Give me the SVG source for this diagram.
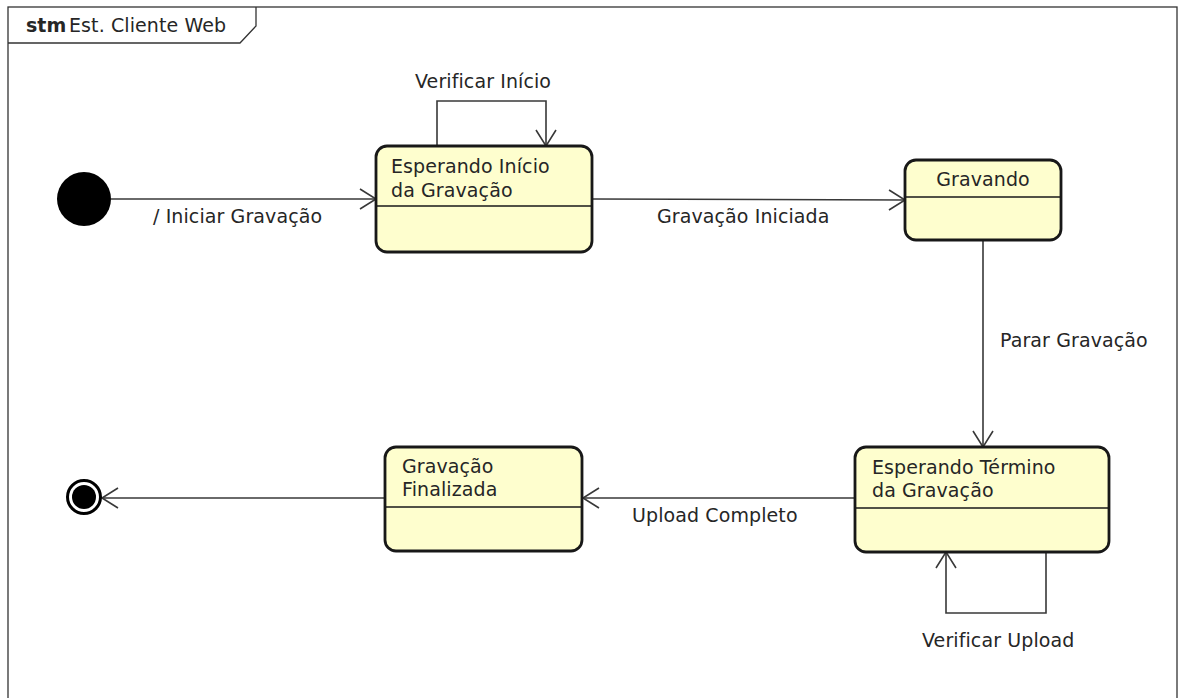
<svg xmlns="http://www.w3.org/2000/svg" width="1185" height="698" viewBox="0 0 1185 698">
<defs>
<style>
text{font-family:"DejaVu Sans",Verdana,sans-serif;font-size:19px;fill:#262626;letter-spacing:0.1px}
.st{fill:#FEFECE;stroke:#181818;stroke-width:2.8}
.dv{stroke:#181818;stroke-width:1.5;fill:none}
.cn{stroke:#383838;stroke-width:1.6;fill:none}
.fr{stroke:#333;stroke-width:1.3;fill:none}
</style>
<marker id="arr" markerUnits="userSpaceOnUse" markerWidth="22" markerHeight="24" refX="17" refY="11" orient="auto">
<path d="M1,1 L17,11 L1,21" fill="none" stroke="#383838" stroke-width="1.6"/>
</marker>
</defs>
<rect x="0" y="0" width="1185" height="698" fill="#fff"/>
<g id="frame">
<rect class="fr" x="8" y="7" width="1169" height="700"/>
<path class="fr" d="M8,43 L240,43 L256,26 L256,7"/>
<text x="26" y="32" style="font-weight:bold;letter-spacing:0">stm</text>
<text x="69" y="32">Est. Cliente Web</text>
</g>
<g id="connectors">
<line class="cn" x1="111" y1="199" x2="376" y2="199" marker-end="url(#arr)"/>
<text x="153" y="223">/ Iniciar Gravação</text>
<path class="cn" d="M437,146 L437,101 L546,101 L546,146" marker-end="url(#arr)"/>
<text x="415" y="88">Verificar Início</text>
<line class="cn" x1="593" y1="199" x2="905" y2="200" marker-end="url(#arr)"/>
<text x="657" y="223">Gravação Iniciada</text>
<line class="cn" x1="983" y1="240" x2="983" y2="447" marker-end="url(#arr)"/>
<text x="1000" y="347">Parar Gravação</text>
<path class="cn" d="M1046,552 L1046,613 L946,613 L946,552" marker-end="url(#arr)"/>
<text x="922" y="647">Verificar Upload</text>
<line class="cn" x1="855" y1="498" x2="583" y2="498" marker-end="url(#arr)"/>
<text x="632" y="522">Upload Completo</text>
<line class="cn" x1="385" y1="498" x2="102" y2="498" marker-end="url(#arr)"/>
</g>
<g id="initial">
<circle cx="84" cy="199" r="27" fill="#000"/>
</g>
<g id="esperandoInicio">
<rect class="st" x="376" y="146" width="216" height="106" rx="11"/>
<line class="dv" x1="376" y1="206" x2="592" y2="206"/>
<text x="391" y="173">Esperando Início</text>
<text x="391" y="197">da Gravação</text>
</g>
<g id="gravando">
<rect class="st" x="905" y="160" width="156" height="80" rx="11"/>
<line class="dv" x1="905" y1="197" x2="1061" y2="197"/>
<text x="983" y="186" text-anchor="middle">Gravando</text>
</g>
<g id="esperandoTermino">
<rect class="st" x="855" y="447" width="254" height="105" rx="11"/>
<line class="dv" x1="855" y1="508" x2="1109" y2="508"/>
<text x="872" y="474">Esperando Término</text>
<text x="872" y="497">da Gravação</text>
</g>
<g id="gravacaoFinalizada">
<rect class="st" x="385" y="447" width="197" height="104" rx="11"/>
<line class="dv" x1="385" y1="507" x2="582" y2="507"/>
<text x="402" y="473">Gravação</text>
<text x="402" y="496">Finalizada</text>
</g>
<g id="final">
<circle cx="84" cy="497" r="16.5" fill="#fff" stroke="#000" stroke-width="3"/>
<circle cx="84" cy="497" r="12" fill="#000"/>
</g>
</svg>
